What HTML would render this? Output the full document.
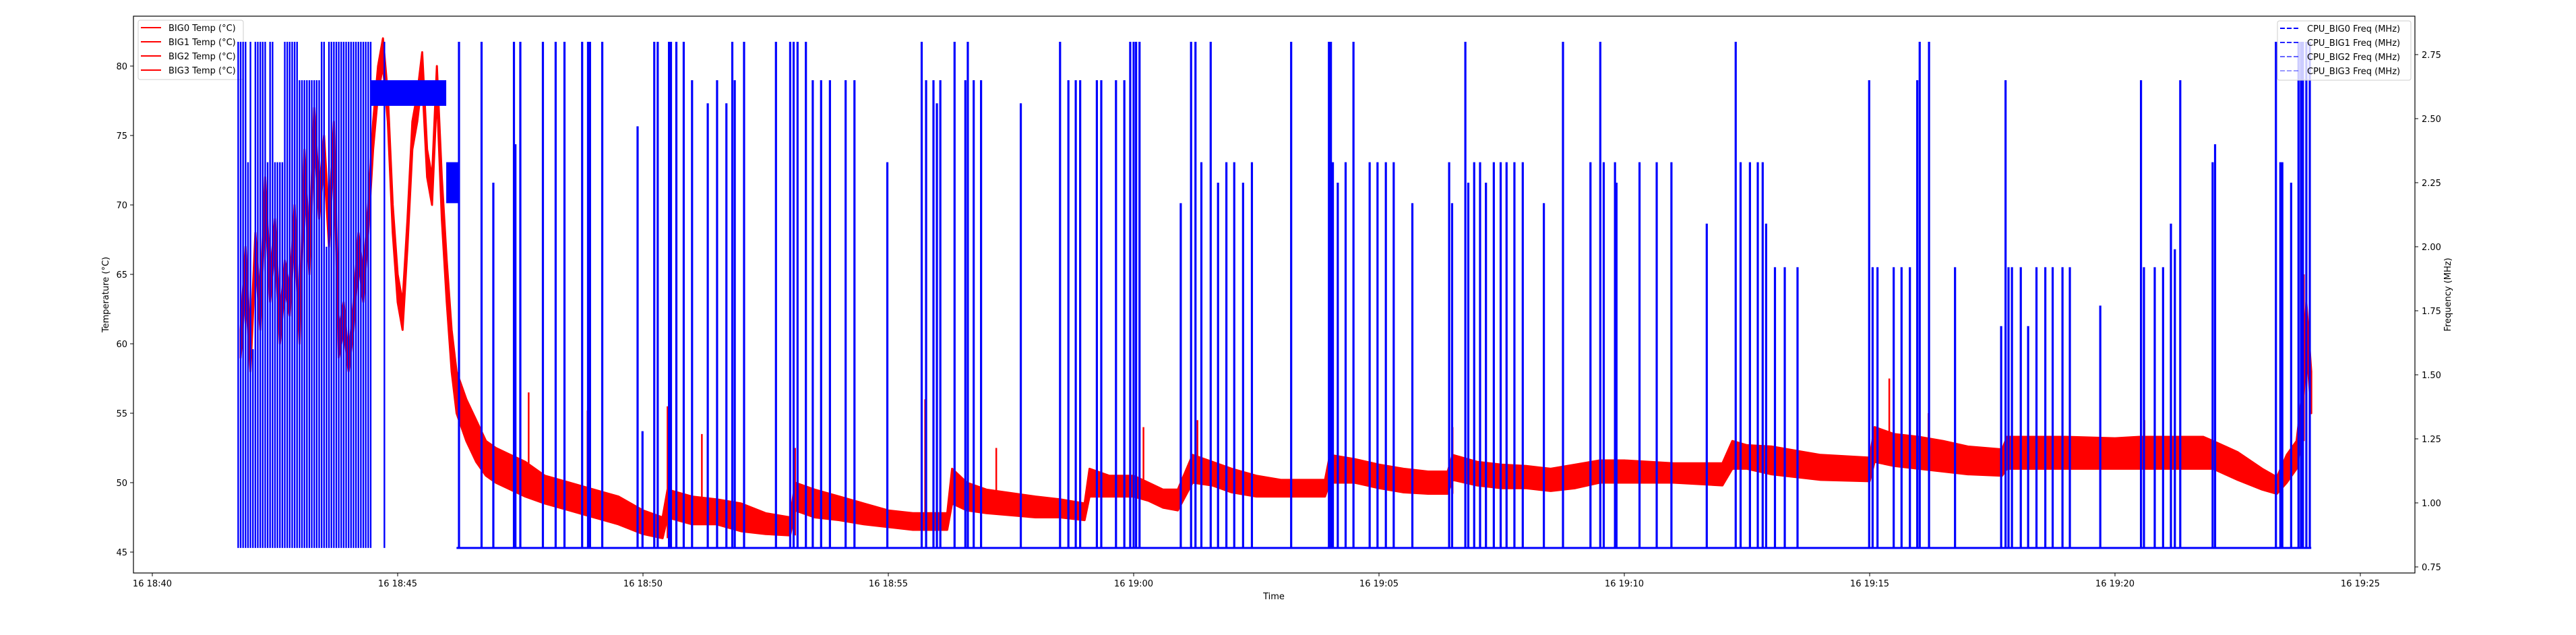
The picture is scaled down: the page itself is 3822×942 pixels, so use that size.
<!DOCTYPE html>
<html><head><meta charset="utf-8">
<style>
html,body{margin:0;padding:0;background:#fff;}
svg{display:block;font-family:"DejaVu Sans","Liberation Sans",sans-serif;}
</style></head>
<body>
<svg id="chart" width="3822" height="942" viewBox="0 0 3822 942" xmlns="http://www.w3.org/2000/svg">
<rect x="0" y="0" width="3822" height="942" fill="#fff"/>
<g id="temp-layer"></g>
<g id="temp-legend">
  <rect x="205" y="30" width="156" height="88" rx="3" fill="#fff" fill-opacity="0.8" stroke="#ccc" stroke-width="1"/>
  <g><line x1="209" y1="41" x2="239" y2="41" stroke="#f00" stroke-width="2"/><text x="250" y="46" font-size="13">BIG0 Temp (°C)</text></g>
  <g><line x1="209" y1="62" x2="239" y2="62" stroke="#f00" stroke-width="2"/><text x="250" y="67" font-size="13">BIG1 Temp (°C)</text></g>
  <g><line x1="209" y1="83" x2="239" y2="83" stroke="#f00" stroke-width="2"/><text x="250" y="88" font-size="13">BIG2 Temp (°C)</text></g>
  <g><line x1="209" y1="104" x2="239" y2="104" stroke="#f00" stroke-width="2"/><text x="250" y="109" font-size="13">BIG3 Temp (°C)</text></g>
</g>
<g id="freq-layer"></g>
<g id="axes"></g>
<g id="freq-legend">
  <rect x="3379" y="31" width="198" height="88" rx="3" fill="#fff" fill-opacity="0.8" stroke="#ccc" stroke-width="1"/>
  <g><line x1="3383" y1="42" x2="3413" y2="42" stroke="#00f" stroke-width="2" stroke-dasharray="7,3"/><text x="3423" y="47" font-size="13">CPU_BIG0 Freq (MHz)</text></g>
  <g><line x1="3383" y1="63" x2="3413" y2="63" stroke="#00f" stroke-opacity="0.85" stroke-width="2" stroke-dasharray="7,3"/><text x="3423" y="68" font-size="13">CPU_BIG1 Freq (MHz)</text></g>
  <g><line x1="3383" y1="84" x2="3413" y2="84" stroke="#00f" stroke-opacity="0.6" stroke-width="2" stroke-dasharray="7,3"/><text x="3423" y="89" font-size="13">CPU_BIG2 Freq (MHz)</text></g>
  <g><line x1="3383" y1="105" x2="3413" y2="105" stroke="#00f" stroke-opacity="0.4" stroke-width="2" stroke-dasharray="7,3"/><text x="3423" y="110" font-size="13">CPU_BIG3 Freq (MHz)</text></g>
</g>
</svg>
<script>
// ---- data (time in minutes after 18:00) ----
const tempT  = [41.8,41.9,42.0,42.1,42.2,42.3,42.4,42.5,42.6,42.7,42.8,42.9,43.0,43.1,43.2,43.3,43.4,43.5,43.6,43.7,43.8,43.9,44.0,44.1,44.2,44.3,44.4,44.5,44.6,44.7,44.8,44.9,45.0,45.1,45.2,45.3,45.4,45.5,45.6,45.7,45.8,45.9,46.0,46.1,46.2,46.4,46.6,46.8,47.0,47.3,47.6,48.0,48.5,49.0,49.5,50.0,50.4,50.5,51.0,51.5,52.0,52.5,53.0,53.1,53.5,54.0,54.5,55.0,55.5,56.2,56.3,56.6,57.0,58.0,58.5,59.0,59.1,59.5,60.0,60.3,60.6,60.9,61.2,61.6,62.0,62.5,63.0,63.9,64.0,64.5,65.0,65.5,66.0,66.4,66.5,67.0,67.5,68.0,68.5,69.0,69.5,70.0,71.0,72.0,72.2,72.5,73.0,73.5,74.0,75.0,75.1,75.5,76.0,76.5,77.0,77.7,77.8,78.5,79.0,80.0,80.5,81.0,81.8,82.0,82.5,83.0,83.3,83.5,83.7,83.8,83.9,84.0];
const tempLo = [59,64,58,66,61,70,63,67,60,64,62,68,60,72,65,75,69,73,67,74,59,61,58,61,66,63,68,74,78,80,76,68,63,61,67,74,76,79,72,70,78,69,63,58,55,53,51.5,50.5,50,49.5,49,48.5,48,47.5,47,46.3,46,47.5,47,47,46.5,46.3,46.2,48,47.5,47.3,47,46.8,46.6,46.6,48.5,48,47.8,47.5,47.5,47.3,49,49,49,48.7,48.2,48,50,49.8,49.3,49,49,49,50,50,49.6,49.3,49.2,49.2,50.2,49.8,49.6,49.6,49.4,49.6,50,50,50,49.8,51,51,50.6,50.4,50.2,50.1,51.5,51.2,51,50.8,50.6,50.5,51,51,51,51,51,51,51,51,50.2,49.5,49.2,50,51,53,60,55];
const tempHi = [61,67,60,68,63,72,65,69,62,66,64,70,61,74,67,77,71,75,69,76,61,63,59,63,68,65,70,76,80,82,78,70,65,63,69,76,78,81,74,72,80,72,66,61,58,56,54.5,53,52.5,52,51.5,50.5,50,49.5,49,48,47.5,49.5,49,48.8,48.5,47.8,47.5,50,49.5,49,48.5,48,47.8,47.8,51,50,49.5,49,48.8,48.5,51,50.5,50.5,50,49.5,49.5,52,51.5,51,50.5,50.2,50.2,52,51.7,51.3,51,50.8,50.8,52,51.5,51.3,51.2,51,51.3,51.6,51.6,51.4,51.4,53,52.7,52.6,52.3,52,51.8,54,53.5,53.3,53,52.6,52.4,53.3,53.3,53.3,53.2,53.3,53.3,53.3,53,52.2,51,50.4,52,53,56,63,58];
const tempSpikeT = [47.67,48.87,50.5,51.2,53.1,55.75,57.2,60.2,61.3,64.0,66.5,75.4,76.2,80.6,83.85];
const tempSpikeV = [56.5,55.2,55.5,53.5,52.5,56,52.5,54,54.5,53.5,54,57.5,55,54.5,65];

const FREQ_BASE = 0.824;
const chaosT = [41.75,41.80,41.85,41.90,41.95,42.00,42.05,42.10,42.15,42.20,42.25,42.30,42.35,42.40,42.45,42.50,42.55,42.60,42.65,42.70,42.75,42.80,42.85,42.90,42.95,43.00,43.05,43.10,43.15,43.20,43.25,43.30,43.35,43.40,43.45,43.50,43.55,43.60,43.65,43.70,43.75,43.80,43.85,43.90,43.95,44.00,44.05,44.10,44.15,44.20,44.25,44.30,44.35,44.40,44.45,44.73];
const chaosV = [2.80,2.80,2.80,2.80,2.33,2.80,1.60,2.80,2.80,2.80,2.80,2.80,2.33,2.80,2.80,2.33,2.33,2.33,2.33,2.80,2.80,2.80,2.80,2.80,2.80,2.65,2.65,2.65,2.65,2.65,2.65,2.65,2.65,2.65,2.80,2.80,2.00,2.80,2.80,2.80,2.80,2.80,2.80,2.80,2.80,2.80,2.80,2.80,2.80,2.80,2.80,2.80,2.80,2.80,2.80,2.80];
const bandStart = [44.46,45.99];
const bandEnd   = [45.99,46.25];
const bandLow   = [2.55,2.17];
const bandHigh  = [2.65,2.33];
const spikeT = [46.25,46.71,46.95,47.37,47.40,47.50,47.96,48.22,48.40,48.76,48.88,48.92,49.17,49.89,49.99,50.23,50.30,50.53,50.57,50.68,50.83,51.00,51.32,51.51,51.70,51.82,51.87,52.06,52.71,53.00,53.07,53.15,53.32,53.46,53.63,53.81,54.13,54.31,54.98,55.68,55.77,55.92,55.99,56.06,56.35,56.57,56.62,56.74,56.89,57.70,58.50,58.67,58.82,58.91,59.25,59.34,
59.64,59.81,59.93,60.00,60.05,60.12,60.96,61.17,61.26,61.38,61.57,61.72,61.89,62.05,62.23,62.41,63.21,63.98,64.02,64.06,64.16,64.32,64.48,64.81,64.97,65.14,65.30,65.68,66.43,66.49,66.76,66.82,66.94,67.06,67.18,67.34,67.48,67.60,67.76,67.93,68.36,68.75,69.31,69.51,69.58,69.81,69.84,70.31,70.66,70.96,71.68,72.27,72.37,72.56,72.72,72.82,73.07,
72.89,73.27,73.53,74.99,75.06,75.16,75.49,75.65,75.82,75.97,76.02,76.21,76.74,77.68,77.77,77.83,77.90,78.08,78.23,78.40,78.58,78.73,78.93,79.08,79.70,80.53,80.59,80.81,80.98,81.14,81.22,81.33,81.99,82.04,83.28,83.37,83.41,83.59,83.74,83.79,83.83,83.90,83.97];
const spikeV = [2.80,2.80,2.25,2.80,2.40,2.80,2.80,2.80,2.80,2.80,2.80,2.80,2.80,2.47,1.28,2.80,2.80,2.80,2.80,2.80,2.80,2.65,2.56,2.65,2.56,2.80,2.65,2.80,2.80,2.80,2.80,2.80,2.80,2.65,2.65,2.65,2.65,2.65,2.33,2.80,2.65,2.65,2.56,2.65,2.80,2.65,2.80,2.65,2.65,2.56,2.80,2.65,2.65,2.65,2.65,2.65,
2.65,2.65,2.80,2.80,2.80,2.80,2.17,2.80,2.80,2.33,2.80,2.25,2.33,2.33,2.25,2.33,2.80,2.80,2.80,2.33,2.25,2.33,2.80,2.33,2.33,2.33,2.33,2.17,2.33,2.17,2.80,2.25,2.33,2.33,2.25,2.33,2.33,2.33,2.33,2.33,2.17,2.80,2.33,2.80,2.33,2.33,2.25,2.33,2.33,2.33,2.09,2.80,2.33,2.33,2.33,2.33,1.92,
2.09,1.92,1.92,2.65,1.92,1.92,1.92,1.92,1.92,2.65,2.80,2.80,1.92,1.69,2.65,1.92,1.92,1.92,1.69,1.92,1.92,1.92,1.92,1.92,1.77,2.65,1.92,1.92,1.92,2.09,1.99,2.65,2.33,2.40,2.80,2.33,2.33,2.25,2.80,2.80,2.80,2.80,2.80];

const xTickVals = [40,45,50,55,60,65,70,75,80,85];
const xTickLabels = ["16 18:40","16 18:45","16 18:50","16 18:55","16 19:00","16 19:05","16 19:10","16 19:15","16 19:20","16 19:25"];
const yTempTicks = [45,50,55,60,65,70,75,80];
const yFreqTicks = [0.75,1.00,1.25,1.50,1.75,2.00,2.25,2.50,2.75];

// ---- scales ----
const X0=198,X1=3583,Y0=24,Y1=850;
const xOf = t => 226 + (t-40)*72.8;
const yT = v => 98 + (80-v)*20.6;
const yF = v => 81 + (2.75-v)*380;
const NS="http://www.w3.org/2000/svg";
function mk(tag, parent, attrs){const e=document.createElementNS(NS,tag);for(const k in attrs)e.setAttribute(k,attrs[k]);parent.appendChild(e);return e;}

// ---- temperature band ----
const tl=document.getElementById('temp-layer');
let d='M'+tempT.map((t,i)=>xOf(t).toFixed(1)+','+yT(tempHi[i]).toFixed(1)).join('L');
for(let i=tempT.length-1;i>=0;i--) d+='L'+xOf(tempT[i]).toFixed(1)+','+yT(tempLo[i]).toFixed(1);
d+='Z';
const band=mk('path',tl,{d:d,fill:'#f00',stroke:'#f00','stroke-width':3,'stroke-linejoin':'round'});


tempSpikeT.forEach((t,i)=>{
  let k=0; while(k<tempT.length-1 && tempT[k+1]<t) k++;
  const base=tempLo[k];
  const s=mk('line',tl,{x1:xOf(t),x2:xOf(t),y1:yT(base),y2:yT(tempSpikeV[i]),stroke:'#f00','stroke-width':2.5});
  
  
});

// ---- frequency ----
const fl=document.getElementById('freq-layer');
const bl=mk('line',fl,{x1:xOf(46.2),x2:xOf(84.0),y1:yF(FREQ_BASE),y2:yF(FREQ_BASE),stroke:'#00f','stroke-width':3});


bandStart.forEach((s,i)=>{
  const r=mk('rect',fl,{x:xOf(s),y:yF(bandHigh[i]),width:xOf(bandEnd[i])-xOf(s),height:yF(bandLow[i])-yF(bandHigh[i]),fill:'#00f'});
  
  
});
function spike(t,v,w){
  const l=mk('line',fl,{x1:xOf(t),x2:xOf(t),y1:yF(FREQ_BASE),y2:yF(v),stroke:'#00f','stroke-width':w});
  
  
}
chaosT.forEach((t,i)=>spike(chaosT[i],chaosV[i],2.4));
spikeT.forEach((t,i)=>spike(t,spikeV[i],3.2));

// ---- axes ----
const ax=document.getElementById('axes');
const fr=mk('rect',ax,{x:X0,y:Y0,width:X1-X0,height:Y1-Y0,fill:'none',stroke:'#000','stroke-width':1.2});


xTickVals.forEach((v,i)=>{
  const x=xOf(v);
  mk('line',ax,{x1:x,x2:x,y1:Y1,y2:Y1+5,stroke:'#000','stroke-width':1});
  const t=mk('text',ax,{x:x,y:Y1+20,'font-size':13,'text-anchor':'middle'});
  t.textContent=xTickLabels[i];
  
  
});
yTempTicks.forEach(v=>{
  const y=yT(v);
  mk('line',ax,{x1:X0-5,x2:X0,y1:y,y2:y,stroke:'#000','stroke-width':1});
  const t=mk('text',ax,{x:X0-9,y:y+5,'font-size':13,'text-anchor':'end'});
  t.textContent=String(v);
  
  
});
yFreqTicks.forEach(v=>{
  const y=yF(v);
  mk('line',ax,{x1:X1,x2:X1+5,y1:y,y2:y,stroke:'#000','stroke-width':1});
  const t=mk('text',ax,{x:X1+10,y:y+5,'font-size':13,'text-anchor':'start'});
  t.textContent=v.toFixed(2);
  
  
});
const xl=mk('text',ax,{x:1890,y:889,'font-size':13,'text-anchor':'middle'});
xl.textContent='Time';


const yl=mk('text',ax,{x:0,y:0,'font-size':13,'text-anchor':'middle',transform:'translate(161,437) rotate(-90)'});
yl.textContent='Temperature (°C)';


const yr=mk('text',ax,{x:0,y:0,'font-size':13,'text-anchor':'middle',transform:'translate(3636,437) rotate(-90)'});
yr.textContent='Frequency (MHz)';


</script>
</body></html>
